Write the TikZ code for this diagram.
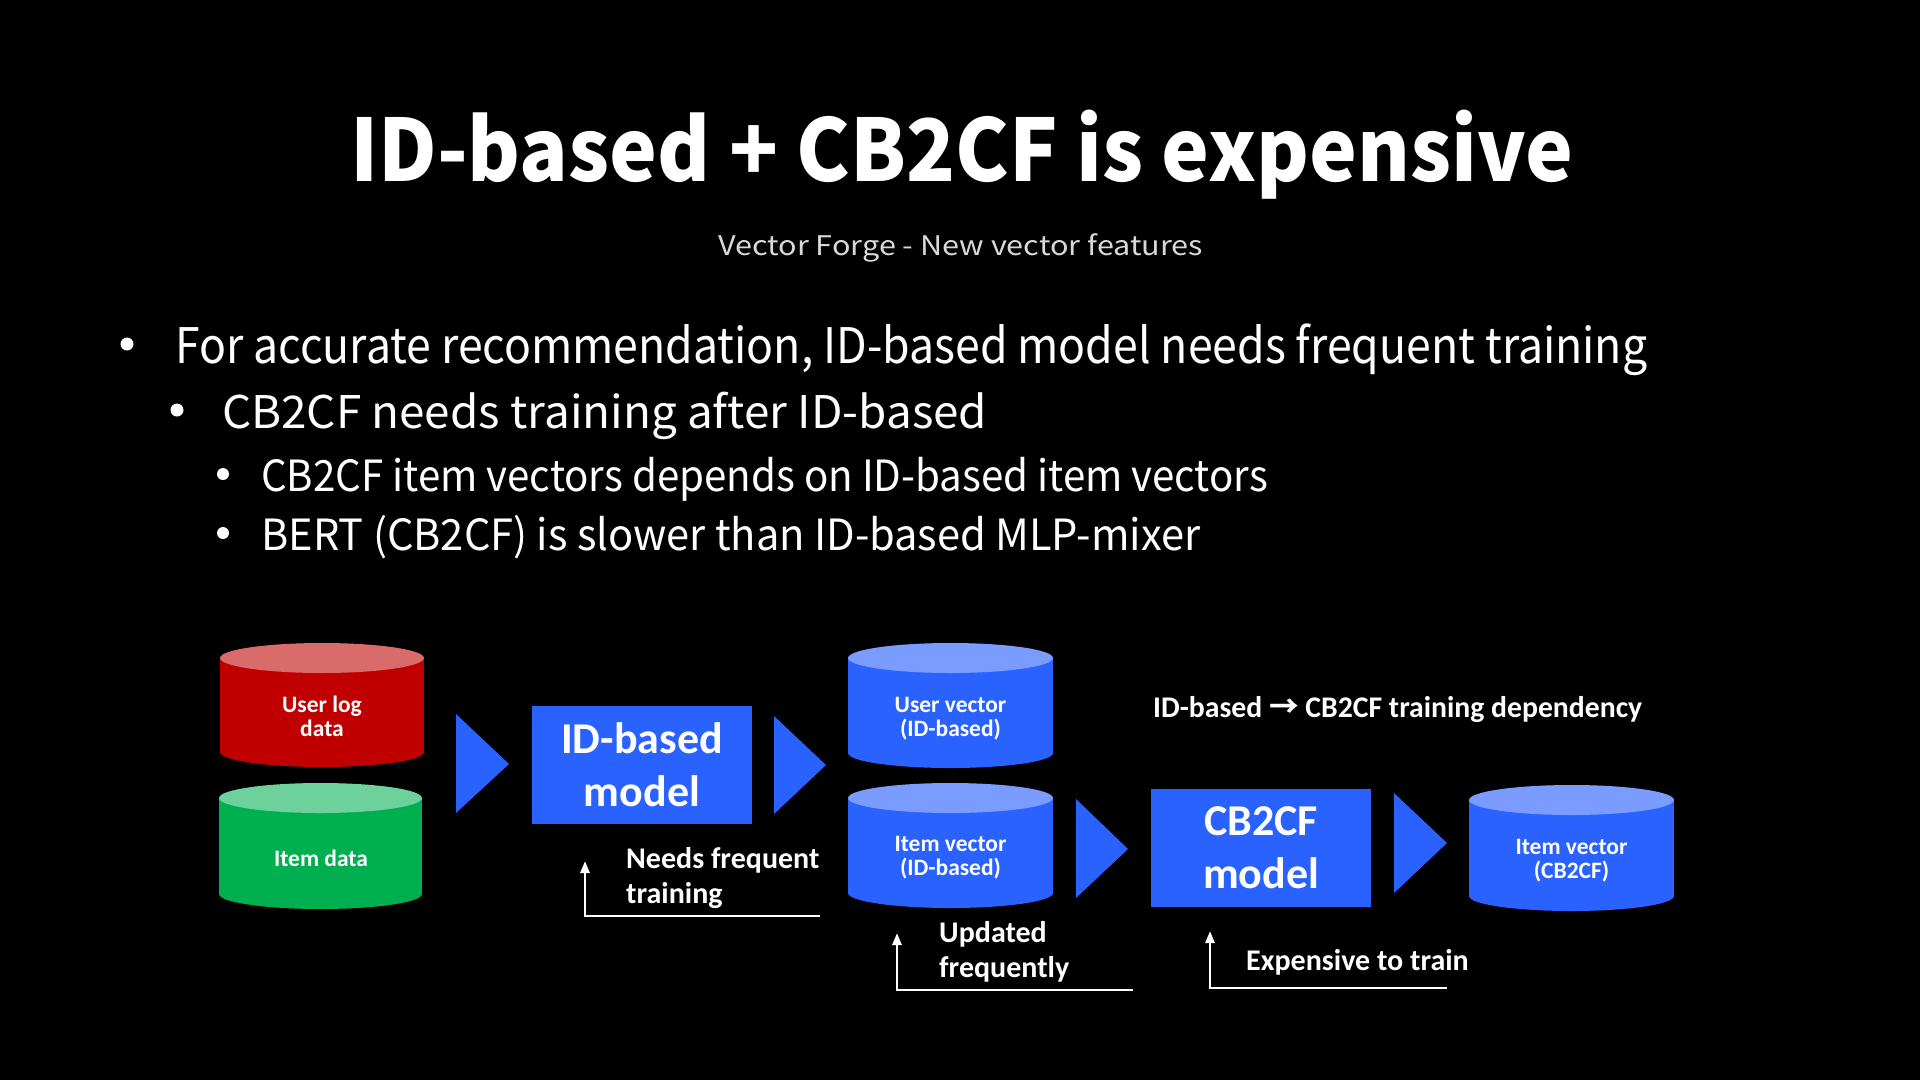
\documentclass[tikz,border=0pt]{standalone}
\usepackage{fontspec}
\usepackage{graphicx}
\usetikzlibrary{arrows.meta}
\setmainfont{Noto Sans CJK JP}
\newfontfamily\jpfont{Noto Sans CJK JP}
\newfontfamily\carl{Carlito}
\newsavebox\fitbox
\newcommand\fitto[2]{\sbox\fitbox{#2}\edef\myfitscale{\fpeval{(#1)/(\the\wd\fitbox)}}\scalebox{\myfitscale}[1]{\usebox\fitbox}}
\definecolor{bluemain}{HTML}{2962FF}
\definecolor{bluetop}{HTML}{7A9BFF}
\definecolor{redmain}{HTML}{C00000}
\definecolor{redtop}{HTML}{D96B6B}
\definecolor{greenmain}{HTML}{00B050}
\definecolor{greentop}{HTML}{6DD19B}
\definecolor{subgray}{HTML}{D9D9D9}
% cylinder: #1 cx, #2 rx, #3 top y, #4 bottom y, #5 body colour, #6 top colour
\newcommand\cylin[6]{%
  \fill[#5] (#1-#2,#3+15) rectangle (#1+#2,#4-15);
  \fill[#5] (#1,#4-15) ellipse[x radius=#2, y radius=15];
  \fill[#6] (#1,#3+15) ellipse[x radius=#2, y radius=15];}
\begin{document}
\begin{tikzpicture}[x=1pt,y=-1pt,
  txt/.style={inner sep=0, text=white},
  cyltext/.style={inner sep=0, text=white, font=\carl\bfseries\fontsize{23.5}{24}\selectfont, align=center},
  modelbox/.style={fill=bluemain, minimum width=220, minimum height=118, inner sep=0, text=white,
     font=\carl\bfseries\fontsize{44}{53}\selectfont, align=center},
  annot/.style={inner sep=0, text=white, font=\carl\bfseries\fontsize{30}{35}\selectfont, align=left},
  annline/.style={draw=white, line width=2.5pt, -{Triangle[width=9pt,length=12pt]}},
  bulletdot/.style={circle, fill=white, inner sep=0}
]
\fill[black] (0,0) rectangle (1920,1080);
\useasboundingbox (0,0) rectangle (1920,1080);

% title and subtitle
\node[txt, anchor=base west] (title) at (350,181)
  {\fontsize{86}{100}\selectfont\bfseries\fitto{1223pt}{ID-based + CB2CF is expensive}};
\node[txt, anchor=base west, text=subgray] (subtitle) at (718,255)
  {\fontsize{27}{32}\selectfont\fitto{485pt}{Vector Forge - New vector features}};

% bullets
\node[bulletdot, minimum size=13] (b1) at (127,344) {};
\node[txt, anchor=base west] (l1) at (175,363)
  {\fontsize{49}{58}\selectfont\fitto{1472pt}{For accurate recommendation, ID-based model needs frequent training}};
\node[bulletdot, minimum size=13] (b2) at (177,410) {};
\node[txt, anchor=base west] (l2) at (222,428)
  {\fontsize{45}{54}\selectfont\fitto{765pt}{CB2CF needs training after ID-based}};
\node[bulletdot, minimum size=12] (b3) at (223,474) {};
\node[txt, anchor=base west] (l3) at (261,491)
  {\fontsize{43}{52}\selectfont\fitto{1007pt}{CB2CF item vectors depends on ID-based item vectors}};
\node[bulletdot, minimum size=12] (b4) at (223,533) {};
\node[txt, anchor=base west] (l4) at (261,550)
  {\fontsize{43}{52}\selectfont\fitto{939pt}{BERT (CB2CF) is slower than ID-based MLP-mixer}};

% cylinders
\cylin{322}{102}{643}{767}{redmain}{redtop}
\node[cyltext] (userlog) at (322,716) {User log\\data};
\cylin{320.5}{101.5}{783}{909}{greenmain}{greentop}
\node[cyltext] (itemdata) at (321,858) {Item data};
\cylin{950.5}{102.5}{643}{768}{bluemain}{bluetop}
\node[cyltext] (uservec) at (950.5,719) {User vector\\(ID-based)};
\cylin{950.5}{102.5}{783}{908}{bluemain}{bluetop}
\node[cyltext] (itemvec) at (950.5,858) {Item vector\\(ID-based)};
\cylin{1571.5}{102.5}{785}{911}{bluemain}{bluetop}
\node[cyltext] (itemcb) at (1571.5,861) {Item vector\\(CB2CF)};

% chevrons
\fill[bluemain] (456,714) -- (509,764) -- (456,813) -- cycle;
\fill[bluemain] (774,716) -- (826,765) -- (774,814) -- cycle;
\fill[bluemain] (1076,799) -- (1128,849) -- (1076,898) -- cycle;
\fill[bluemain] (1394,793) -- (1447,843) -- (1394,893) -- cycle;

% model boxes
\node[modelbox] (idmodel) at (642,765) {ID-based\\model};
\node[modelbox] (cbmodel) at (1261,848) {CB2CF\\model};

% heading
\node[txt, anchor=base west] (dep) at (1153,717)
  {\carl\bfseries\fontsize{30}{36}\selectfont\fitto{489pt}{ID-based {\jpfont\bfseries →} CB2CF training dependency}};

% annotations
\coordinate (needsend) at (820,916);
\coordinate (needstip) at (585,861);
\draw[annline] (needsend) -| (needstip);
\node[annot, anchor=north west] (needs) at (626,847) {Needs frequent\\training};

\coordinate (updend) at (1133,990);
\coordinate (updtip) at (897,933);
\draw[annline] (updend) -| (updtip);
\node[annot, anchor=north west] (upd) at (939,921) {Updated\\frequently};

\coordinate (expend) at (1447,988);
\coordinate (exptip) at (1210,931);
\draw[annline] (expend) -| (exptip);
\node[annot, anchor=base west] (exp) at (1246,970) {Expensive to train};
\end{tikzpicture}
\end{document}
